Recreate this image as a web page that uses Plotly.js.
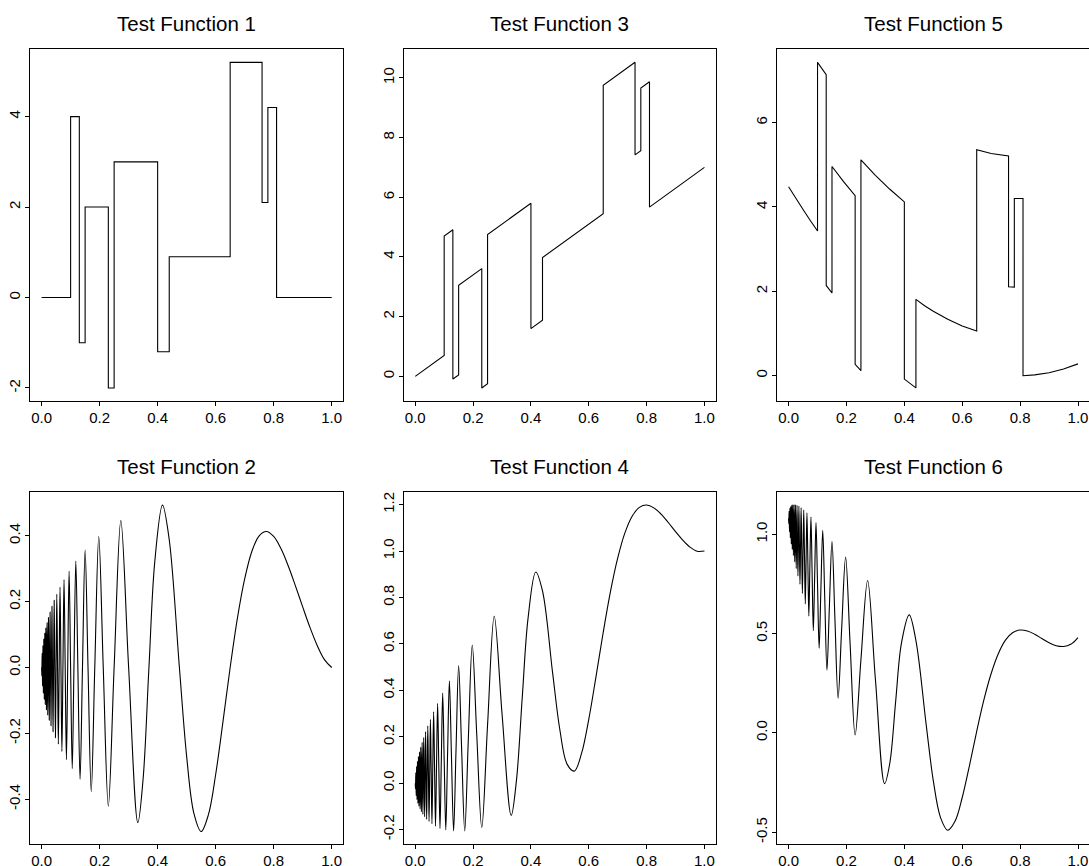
<!DOCTYPE html>
<html>
<head>
<meta charset="utf-8">
<script src="https://cdn.plot.ly/plotly-3.0.1.min.js"></script>
<style>html,body{margin:0;padding:0;background:#fff;}#chart{width:1089px;height:866px;}</style>
</head>
<body>
<div id="chart"></div>
<script>
// ---- Test Function 1 (blocks), step breakpoints ----
const x1 = [0, 0.10, 0.13, 0.15, 0.23, 0.25, 0.40, 0.44, 0.65, 0.76, 0.78, 0.81, 1.00];
const y1 = [0, 4, -1, 2, -2, 3, -1.2, 0.9, 5.2, 2.1, 4.2, 0, 0];

// ---- Test Function 3 (blocks with rising trend) ----
const x3 = [0, 0.10, 0.10, 0.13, 0.13, 0.15, 0.15, 0.23, 0.23, 0.25, 0.25, 0.40, 0.40, 0.44, 0.44, 0.65, 0.65, 0.76, 0.76, 0.78, 0.78, 0.81, 0.81, 1.00];
const y3 = [0, 0.70, 4.70, 4.91, -0.09, 0.05, 3.05, 3.61, -0.39, -0.25, 4.75, 5.80, 1.60, 1.88, 3.98, 5.45, 9.75, 10.52, 7.42, 7.56, 9.66, 9.87, 5.67, 7.00];

// ---- Test Function 5 (blocks with curved background) ----
const x5 = [0, 0.025, 0.05, 0.075, 0.10, 0.10, 0.13, 0.13, 0.15, 0.15, 0.19, 0.23, 0.23, 0.25, 0.25, 0.30, 0.35, 0.40, 0.40, 0.44, 0.44, 0.47, 0.50, 0.55, 0.60, 0.65, 0.65, 0.70, 0.76, 0.76, 0.78, 0.78, 0.81, 0.81, 0.85, 0.90, 0.95, 1.00];
const y5 = [4.48, 4.20, 3.94, 3.68, 3.43, 7.43, 7.14, 2.14, 1.96, 4.96, 4.60, 4.27, 0.27, 0.12, 5.12, 4.75, 4.42, 4.12, -0.08, -0.29, 1.81, 1.66, 1.53, 1.34, 1.18, 1.06, 5.36, 5.27, 5.21, 2.11, 2.10, 4.20, 4.20, 0.00, 0.02, 0.07, 0.16, 0.28];

// ---- Test Functions 2, 4, 6 (oscillating): key points (extrema, crossings, shape points) ----
const xd = [0, 0.0006, 0.0012, 0.0019, 0.0025, 0.0032, 0.0038, 0.0046, 0.0053, 0.0060, 0.0068, 0.0075, 0.0083, 0.0092, 0.0100, 0.0109, 0.0118, 0.0127, 0.0136, 0.0146, 0.0156, 0.0167, 0.0177, 0.0189, 0.0200, 0.0212, 0.0224, 0.0237, 0.0250, 0.0264, 0.0278, 0.0292, 0.0308, 0.0324, 0.0340, 0.0357, 0.0375, 0.0394, 0.0413, 0.0433, 0.0455, 0.0477, 0.0500, 0.0524, 0.0550, 0.0577, 0.0605, 0.0635, 0.0667, 0.0700, 0.0735, 0.0773, 0.0813, 0.0855, 0.0900, 0.0948, 0.1000, 0.1056, 0.1115, 0.1180, 0.1250, 0.1326, 0.1409, 0.1500, 0.1600, 0.1711, 0.1833, 0.1971, 0.2125, 0.2300, 0.2500, 0.2731, 0.3000, 0.3318, 0.350, 0.370, 0.390, 0.4167, 0.440, 0.475, 0.500, 0.525, 0.550, 0.575, 0.600, 0.625, 0.650, 0.675, 0.700, 0.725, 0.750, 0.775, 0.800, 0.825, 0.850, 0.875, 0.900, 0.925, 0.950, 0.975, 1.000];

const y2 = [0, -0.025, 0, 0.043, 0, -0.056, 0, 0.067, 0, -0.077, 0, 0.086, 0, -0.096, 0, 0.104, 0, -0.112, 0, 0.120, 0, -0.128, 0, 0.136, 0, -0.144, 0, 0.152, 0, -0.160, 0, 0.168, 0, -0.177, 0, 0.186, 0, -0.195, 0, 0.204, 0, -0.213, 0, 0.223, 0, -0.233, 0, 0.244, 0, -0.255, 0, 0.267, 0, -0.280, 0, 0.293, 0, -0.307, 0, 0.323, 0, -0.339, 0, 0.357, 0, -0.377, 0, 0.398, 0, -0.421, 0, 0.446, 0, -0.471, -0.337, 0, 0.320, 0.493, 0.388, 0, -0.270, -0.443, -0.498, -0.447, -0.325, -0.166, 0, 0.150, 0.269, 0.353, 0.400, 0.413, 0.398, 0.361, 0.309, 0.248, 0.184, 0.122, 0.067, 0.024, 0];

const y4 = [0, -0.024, 0.001, 0.045, 0.003, -0.053, 0.004, 0.072, 0.005, -0.071, 0.007, 0.094, 0.008, -0.087, 0.010, 0.115, 0.012, -0.099, 0.014, 0.135, 0.016, -0.111, 0.018, 0.155, 0.020, -0.123, 0.022, 0.176, 0.025, -0.134, 0.028, 0.197, 0.031, -0.145, 0.034, 0.222, 0.038, -0.156, 0.041, 0.247, 0.046, -0.165, 0.050, 0.275, 0.055, -0.175, 0.061, 0.308, 0.067, -0.185, 0.074, 0.344, 0.081, -0.195, 0.090, 0.388, 0.100, -0.201, 0.112, 0.441, 0.125, -0.206, 0.141, 0.507, 0.160, -0.206, 0.183, 0.595, 0.213, -0.191, 0.250, 0.719, 0.300, -0.139, 0.013, 0.370, 0.710, 0.910, 0.828, 0.475, 0.230, 0.082, 0.052, 0.128, 0.275, 0.459, 0.650, 0.825, 0.969, 1.078, 1.150, 1.188, 1.198, 1.186, 1.159, 1.123, 1.084, 1.047, 1.017, 0.999, 1.000];

const y6 = [1.080, 1.053, 1.076, 1.116, 1.071, 1.013, 1.066, 1.131, 1.061, 0.982, 1.056, 1.139, 1.050, 0.951, 1.044, 1.145, 1.038, 0.923, 1.032, 1.148, 1.025, 0.893, 1.017, 1.149, 1.009, 0.861, 1.001, 1.148, 0.992, 0.827, 0.982, 1.145, 0.972, 0.790, 0.961, 1.141, 0.949, 0.748, 0.936, 1.134, 0.922, 0.702, 0.908, 1.123, 0.891, 0.649, 0.873, 1.108, 0.853, 0.588, 0.832, 1.087, 0.807, 0.514, 0.780, 1.059, 0.750, 0.426, 0.716, 1.020, 0.677, 0.316, 0.632, 0.965, 0.581, 0.175, 0.521, 0.885, 0.451, -0.010, 0.368, 0.767, 0.270, -0.255, -0.150, 0.159, 0.452, 0.594, 0.465, 0.047, -0.240, -0.426, -0.490, -0.445, -0.325, -0.164, 0.008, 0.167, 0.299, 0.400, 0.468, 0.505, 0.518, 0.513, 0.497, 0.475, 0.454, 0.439, 0.435, 0.446, 0.480];

// ---- titles and ticks ----
const titles = ["Test Function 1", "Test Function 3", "Test Function 5", "Test Function 2", "Test Function 4", "Test Function 6"];
const xTickVals = [0, 0.2, 0.4, 0.6, 0.8, 1.0];
const xTickText = ["0.0", "0.2", "0.4", "0.6", "0.8", "1.0"];
const yTick1 = [-2, 0, 2, 4];            const yText1 = ["-2", "0", "2", "4"];
const yTick3 = [0, 2, 4, 6, 8, 10];      const yText3 = ["0", "2", "4", "6", "8", "10"];
const yTick5 = [0, 2, 4, 6];             const yText5 = ["0", "2", "4", "6"];
const yTick2 = [-0.4, -0.2, 0, 0.2, 0.4]; const yText2 = ["-0.4", "-0.2", "0.0", "0.2", "0.4"];
const yTick4 = [-0.2, 0, 0.2, 0.4, 0.6, 0.8, 1.0, 1.2]; const yText4 = ["-0.2", "0.0", "0.2", "0.4", "0.6", "0.8", "1.0", "1.2"];
const yTick6 = [-0.5, 0, 0.5, 1.0];      const yText6 = ["-0.5", "0.0", "0.5", "1.0"];

const FONT = "Liberation Sans, Arial, Helvetica, sans-serif";
const W = 1089, H = 866;
const colDom = [[30 / W, 343.3 / W], [403.7 / W, 716 / W], [777 / W, 1]];
const rowDom = [[1 - 401 / H, 1 - 49.3 / H], [1 - 844 / H, 1 - 492.3 / H]];
const xRanges = [[-0.04, 1.04], [-0.04, 1.04], [-0.04, 1.038]];

const line = {color: "#000", width: 1.1};
const spl = {color: "#000", width: 1.1, shape: "spline", smoothing: 1};
const traces = [
  {x: x1, y: y1, mode: "lines", line: {color: "#000", width: 1.1, shape: "hv"}, xaxis: "x", yaxis: "y"},
  {x: x3, y: y3, mode: "lines", line: line, xaxis: "x2", yaxis: "y2"},
  {x: x5, y: y5, mode: "lines", line: line, xaxis: "x3", yaxis: "y3"},
  {x: xd, y: y2, mode: "lines", line: spl, xaxis: "x4", yaxis: "y4"},
  {x: xd, y: y4, mode: "lines", line: spl, xaxis: "x5", yaxis: "y5"},
  {x: xd, y: y6, mode: "lines", line: spl, xaxis: "x6", yaxis: "y6"}
];

const yRanges = [[-2.288, 5.488], [-0.826, 10.956], [-0.600, 7.739], [-0.536, 0.532], [-0.262, 1.253], [-0.559, 1.211]];
const yTicks = [[yTick1, yText1], [yTick3, yText3], [yTick5, yText5], [yTick2, yText2], [yTick4, yText4], [yTick6, yText6]];

const layout = {
  width: W, height: H,
  margin: {l: 0, r: 0, t: 0, b: 0},
  paper_bgcolor: "#fff", plot_bgcolor: "#fff",
  showlegend: false,
  font: {family: FONT, color: "#000"},
  annotations: []
};

const axCommon = {
  showline: true, mirror: true, linecolor: "#000", linewidth: 1,
  ticks: "outside", ticklen: 4, tickwidth: 1, tickcolor: "#000",
  ticklabelstandoff: -1,
  showgrid: false, zeroline: false, tickmode: "array",
  tickfont: {family: FONT, size: 15, color: "#000"}
};

for (let i = 0; i < 6; i++) {
  const col = i % 3, row = Math.floor(i / 3);
  const s = i === 0 ? "" : String(i + 1);
  layout["xaxis" + s] = Object.assign({}, axCommon, {
    domain: colDom[col], range: xRanges[col], anchor: "y" + s,
    tickvals: xTickVals, ticktext: xTickText
  });
  layout["yaxis" + s] = Object.assign({}, axCommon, {
    domain: rowDom[row], range: yRanges[i], anchor: "x" + s,
    tickvals: yTicks[i][0], ticktext: yTicks[i][1], tickangle: -90
  });
  layout.annotations.push({
    text: titles[i], xref: "paper", yref: "paper",
    x: (colDom[col][0] + (col === 2 ? (777 + 313) / W : colDom[col][1])) / 2,
    y: row === 0 ? 1 - 23.6 / H : 1 - 466.6 / H,
    xanchor: "center", yanchor: "middle", showarrow: false,
    font: {family: FONT, size: 20.5, color: "#000"}
  });
}

Plotly.newPlot("chart", traces, layout, {displayModeBar: false, staticPlot: true});
</script>
</body>
</html>
